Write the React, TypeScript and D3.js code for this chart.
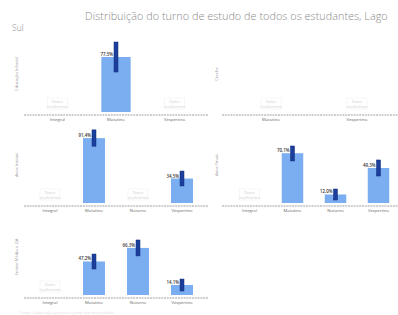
import React from 'react';
import * as d3 from 'd3';

// facetas (etapas) e turnos de cada uma
const etapas = ['Educação Infantil', 'Creche', 'Anos Iniciais', 'Anos Finais', 'Ensino Médio e EJA'];
const turnosPorEtapa = [
  ['Integral', 'Matutino', 'Vespertino'],
  ['Matutino', 'Vespertino'],
  ['Integral', 'Matutino', 'Noturno', 'Vespertino'],
  ['Integral', 'Matutino', 'Noturno', 'Vespertino'],
  ['Integral', 'Matutino', 'Noturno', 'Vespertino'],
];
// percentuais (null = dados insuficientes)
const percentuais = [
  [null, 77.5, null],
  [null, null],
  [null, 91.4, null, 34.5],
  [null, 70.1, 12.0, 49.3],
  [null, 47.2, 66.3, 14.1],
];
const limiteInferior = [
  [null, 56.3, null],
  [null, null],
  [null, 80.0, null, 24.0],
  [null, 59.2, 4.2, 38.0],
  [null, 36.6, 55.0, 5.6],
];
const limiteSuperior = [
  [null, 98.6, null],
  [null, null],
  [null, 103.0, null, 45.0],
  [null, 80.3, 19.7, 60.6],
  [null, 57.7, 77.5, 22.5],
];

const W = 398;
const H = 315;
const colunas = [[28, 204], [228, 400]];
const linhas = [112, 203, 295];
const pxPorCem = 71;

const fmt = (v: number) => `${v.toFixed(1).replace('.', ',')}%`;

const Painel = ({ idx }: { idx: number }) => {
  const col = idx % 2;
  const row = Math.floor(idx / 2);
  const base = linhas[row];
  const turnos = turnosPorEtapa[idx];
  const x = d3.scaleBand().domain(turnos).range(colunas[col]).paddingInner(0.5).paddingOuter(0.25);
  const y = d3.scaleLinear().domain([0, 100]).range([base, base - pxPorCem]);
  const vals = percentuais[idx];
  const lo = limiteInferior[idx];
  const hi = limiteSuperior[idx];
  const axisX0 = col === 0 ? 24 : 222;
  const axisX1 = col === 0 ? 208 : 398;
  const yTitleX = col === 0 ? 18 : 218;
  return (
    <g>
      <text
        transform={`translate(${yTitleX},${base - 38}) rotate(-90)`}
        textAnchor="middle"
        fontSize={4.2}
        fill="#999"
      >
        {etapas[idx]}
      </text>
      {turnos.map((t, i) => {
        const cx = (x(t) as number) + x.bandwidth() / 2;
        const v = vals[i];
        if (v == null) {
          return (
            <g key={t}>
              <rect x={cx - 10} y={base - 14} width={20} height={11} fill="none" stroke="#f0f0f0" strokeWidth={0.6} />
              <text x={cx} y={base - 9.5} textAnchor="middle" fontSize={3.6} fill="#cfcfcf">Dados</text>
              <text x={cx} y={base - 4.5} textAnchor="middle" fontSize={3.6} fill="#cfcfcf">insuficientes</text>
            </g>
          );
        }
        return (
          <g key={t}>
            <rect x={x(t)} y={y(v)} width={x.bandwidth()} height={base - y(v)} fill="#7baef0" />
            <rect x={cx - 2} y={y(hi[i] as number)} width={4} height={y(lo[i] as number) - y(hi[i] as number)} fill="#1d3f9c" stroke="#0f2c7c" strokeWidth={0.5} />
            <text x={cx - 3} y={y(v) - 1} textAnchor="end" fontSize={4.4} fontWeight={600} fill="#333">{fmt(v)}</text>
          </g>
        );
      })}
      <line x1={axisX0} x2={axisX1} y1={base + 3} y2={base + 3} stroke="#888" strokeWidth={0.8} strokeDasharray="2,0.8" />
      {turnos.map((t) => (
        <text key={t} x={(x(t) as number) + x.bandwidth() / 2} y={base + 9} textAnchor="middle" fontSize={4.2} fill="#666">
          {t}
        </text>
      ))}
    </g>
  );
};

export default function App() {
  return (
    <svg
      width={W}
      height={H}
      style={{ position: 'absolute', left: 0, top: 0, background: '#fff' }}
      fontFamily="'Open Sans', sans-serif"
    >
      <text x={85} y={20} fontSize={10.8} fontWeight={300} letterSpacing={0.05} fill="#8a8a8a">
        Distribuição do turno de estudo de todos os estudantes, Lago
      </text>
      <text x={12} y={31} fontSize={8.5} fontWeight={300} fill="#8a8a8a">Sul</text>
      {etapas.map((_, i) => (
        <Painel key={i} idx={i} />
      ))}
      <text x={20} y={314} fontSize={4} fill="#ddd">Fonte: elaboração própria a partir dos microdados</text>
    </svg>
  );
}
